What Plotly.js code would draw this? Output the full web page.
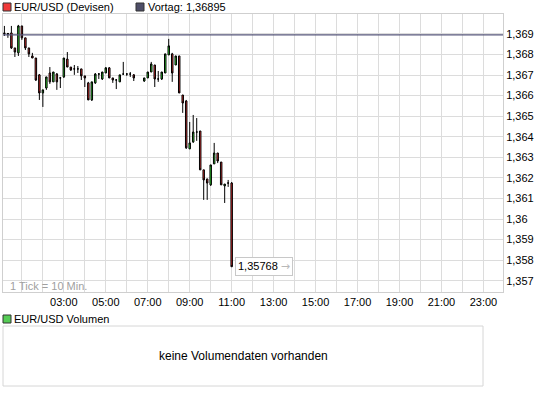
<!DOCTYPE html>
<html>
<head>
<meta charset="utf-8">
<script src="https://cdn.plot.ly/plotly-3.0.1.min.js"></script>
<style>
html,body{margin:0;padding:0;background:#fff;}
#chart{width:545px;height:395px;}
</style>
</head>
<body>
<div id="chart"></div>
<script>
// ---- data ----
const times = ["00:10","00:20","00:30","00:40","00:50","01:00","01:10","01:20","01:30","01:40","01:50",
  "02:00","02:10","02:20","02:30","02:40","02:50","03:00","03:10","03:20","03:30","03:40","03:50",
  "04:00","04:10","04:20","04:30","04:40","04:50","05:00","05:10","05:20","05:30","05:40","05:50",
  "06:00","06:10","06:20","06:50","07:00","07:10","07:20","07:30","07:40","07:50",
  "08:00","08:10","08:20","08:30","08:40","08:50","09:00","09:10","09:20","09:30","09:40","09:50",
  "10:00","10:10","10:20","10:30","10:40","10:50","11:00"];
const openV = [1.36905,1.36902,1.36905,1.36832,1.36808,1.36939,1.36881,1.36832,1.36793,1.36783,1.36701,
  1.36613,1.36637,1.36710,1.36667,1.36705,1.36686,1.36691,1.36778,1.36739,1.36730,1.36730,1.36730,
  1.36696,1.36662,1.36579,1.36662,1.36705,1.36681,1.36710,1.36735,1.36686,1.36676,1.36667,1.36705,
  1.36705,1.36705,1.36701,1.36671,1.36686,1.36715,1.36749,1.36681,1.36681,1.36710,
  1.36798,1.36803,1.36749,1.36793,1.36603,1.36574,1.36341,1.36375,1.36423,1.36428,1.36239,1.36195,
  1.36166,1.36268,1.36321,1.36277,1.36161,1.36175,1.36175];
const highV = [1.36939,1.36905,1.36939,1.36832,1.36944,1.36939,1.36881,1.36832,1.36808,1.36783,1.36705,
  1.36628,1.36691,1.36739,1.36715,1.36710,1.36691,1.36783,1.36812,1.36739,1.36749,1.36744,1.36730,
  1.36696,1.36667,1.36667,1.36710,1.36710,1.36715,1.36739,1.36739,1.36686,1.36681,1.36701,1.36764,
  1.36710,1.36715,1.36705,1.36686,1.36715,1.36764,1.36749,1.36720,1.36715,1.36803,
  1.36876,1.36808,1.36793,1.36793,1.36603,1.36579,1.36472,1.36506,1.36491,1.36428,1.36239,1.36195,
  1.36263,1.36370,1.36321,1.36277,1.36170,1.36190,1.36180];
const lowV = [1.36890,1.36881,1.36827,1.36788,1.36793,1.36871,1.36822,1.36788,1.36783,1.36671,1.36579,
  1.36545,1.36628,1.36657,1.36667,1.36628,1.36637,1.36686,1.36739,1.36720,1.36701,1.36710,1.36676,
  1.36642,1.36579,1.36574,1.36657,1.36681,1.36676,1.36710,1.36686,1.36662,1.36632,1.36667,1.36701,
  1.36696,1.36691,1.36671,1.36667,1.36686,1.36715,1.36642,1.36667,1.36676,1.36710,
  1.36798,1.36667,1.36749,1.36613,1.36516,1.36341,1.36341,1.36370,1.36380,1.36239,1.36093,1.36093,
  1.36161,1.36268,1.36272,1.36166,1.36078,1.36156,1.35768];
const closeV = [1.36902,1.36900,1.36832,1.36812,1.36939,1.36881,1.36832,1.36803,1.36783,1.36676,1.36613,
  1.36628,1.36691,1.36667,1.36715,1.36667,1.36686,1.36783,1.36739,1.36725,1.36730,1.36730,1.36696,
  1.36686,1.36579,1.36667,1.36705,1.36705,1.36715,1.36735,1.36686,1.36676,1.36676,1.36701,1.36705,
  1.36705,1.36705,1.36686,1.36686,1.36715,1.36754,1.36681,1.36681,1.36715,1.36803,
  1.36842,1.36710,1.36793,1.36613,1.36564,1.36346,1.36370,1.36423,1.36423,1.36239,1.36190,1.36175,
  1.36263,1.36321,1.36282,1.36166,1.36170,1.36175,1.35768];
const vortag = 1.36895;
const yTickLabels = ["1,357","1,358","1,359","1,36","1,361","1,362","1,363","1,364","1,365","1,366","1,367","1,368","1,369"];
const xTickLabels = ["03:00","05:00","07:00","09:00","11:00","13:00","15:00","17:00","19:00","21:00","23:00"];
const titleText = "EUR/USD (Devisen)";
const volumeTitle = "EUR/USD Volumen";
const noVolumeText = "keine Volumendaten vorhanden";
const tickInfo = "1 Tick = 10 Min.";

// ---- helpers ----
const toMin = s => { const p = s.split(":"); return (+p[0]) * 60 + (+p[1]); };
const fmt = (v, d) => v.toFixed(d).replace(".", ",");
const xs = times.map(toMin);
const yTickVals = yTickLabels.map(s => parseFloat(s.replace(",", ".")));
const xTickVals = xTickLabels.map(toMin);

// layout geometry (pixels)
const W = 545, H = 395, L = 3, R = 503, T = 14, B = 292;
const px = x => (x - L) / (R - L);
const py = y => (B - y) / (B - T);
const FONT = "Liberation Sans, Arial, sans-serif";
const GRID = "#dcdcdc";

const trace = {
  type: "candlestick",
  x: xs, open: openV, high: highV, low: lowV, close: closeV,
  increasing: {line: {color: "#000", width: 1}, fillcolor: "#33ee33"},
  decreasing: {line: {color: "#000", width: 1}, fillcolor: "#ee3333"},
  whiskerwidth: 0,
  hoverinfo: "skip",
  showlegend: false
};

const lastX = xs[xs.length - 1], lastC = closeV[closeV.length - 1];

const layout = {
  width: W, height: H,
  margin: {l: L, r: W - R, t: T, b: H - B, pad: 0},
  paper_bgcolor: "#fff", plot_bgcolor: "#fff",
  font: {family: FONT, size: 11, color: "#000"},
  showlegend: false,
  boxgap: 0.4,
  xaxis: {
    type: "linear", range: [6, 1436], fixedrange: true,
    tickmode: "array", tickvals: xTickVals, ticktext: xTickLabels,
    showgrid: true, gridcolor: GRID, gridwidth: 1,
    minor: {tickmode: "linear", tick0: 0, dtick: 60, showgrid: true, gridcolor: GRID, gridwidth: 1, ticks: ""},
    showline: true, mirror: true, linecolor: "#cfcfcf", linewidth: 1,
    ticks: "", zeroline: false,
    rangeslider: {visible: false},
    tickfont: {family: FONT, size: 11, color: "#000"}
  },
  yaxis: {
    side: "right", range: [1.35645, 1.36997], fixedrange: true,
    tickmode: "array", tickvals: yTickVals, ticktext: yTickLabels,
    showgrid: true, gridcolor: GRID, gridwidth: 1,
    showline: true, mirror: true, linecolor: "#cfcfcf", linewidth: 1,
    ticks: "", zeroline: false,
    tickfont: {family: FONT, size: 11, color: "#000"}
  },
  shapes: [
    {type: "line", xref: "paper", yref: "y", x0: 0, x1: 1, y0: vortag, y1: vortag,
     line: {color: "#56567a", width: 1.3}, layer: "above"},
    {type: "rect", xref: "paper", yref: "paper", x0: px(3), x1: px(11), y0: py(11), y1: py(3),
     fillcolor: "#f03a3a", line: {color: "#333", width: 1}},
    {type: "rect", xref: "paper", yref: "paper", x0: px(136), x1: px(144), y0: py(11), y1: py(3),
     fillcolor: "#4e4e68", line: {color: "#333", width: 1}},
    {type: "rect", xref: "paper", yref: "paper", x0: px(3), x1: px(11), y0: py(323), y1: py(315),
     fillcolor: "#55cc55", line: {color: "#333", width: 1}},
    {type: "rect", xref: "paper", yref: "paper", x0: px(3), x1: px(483), y0: py(386), y1: py(326),
     fillcolor: "#fff", line: {color: "#d6d6d6", width: 1}}
  ],
  annotations: [
    {xref: "paper", yref: "paper", x: px(12), y: py(7), xanchor: "left", yanchor: "middle",
     text: titleText, showarrow: false, font: {family: FONT, size: 11, color: "#000"}},
    {xref: "paper", yref: "paper", x: px(146), y: py(7), xanchor: "left", yanchor: "middle",
     text: "Vortag: " + fmt(vortag, 5), showarrow: false, font: {family: FONT, size: 11, color: "#000"}},
    {xref: "paper", yref: "paper", x: px(8), y: py(286), xanchor: "left", yanchor: "middle",
     text: tickInfo, showarrow: false, font: {family: FONT, size: 11, color: "#a0a0a0"}},
    {xref: "x", yref: "y", x: lastX, y: lastC, xanchor: "left", yanchor: "middle", xshift: 3,
     text: fmt(lastC, 5) + " <span style='font-family:DejaVu Sans;color:#b8b8b8'>\u2192</span>", showarrow: false,
     bgcolor: "#fff", bordercolor: "#c8c8c8", borderwidth: 1, borderpad: 2,
     font: {family: FONT, size: 11, color: "#000"}},
    {xref: "paper", yref: "paper", x: px(12), y: py(319), xanchor: "left", yanchor: "middle",
     text: volumeTitle, showarrow: false, font: {family: FONT, size: 11, color: "#000"}},
    {xref: "paper", yref: "paper", x: px(243), y: py(356), xanchor: "center", yanchor: "middle",
     text: noVolumeText, showarrow: false, font: {family: FONT, size: 12, color: "#000"}}
  ]
};

Plotly.newPlot("chart", [trace], layout, {displayModeBar: false, staticPlot: true});
</script>
</body>
</html>
